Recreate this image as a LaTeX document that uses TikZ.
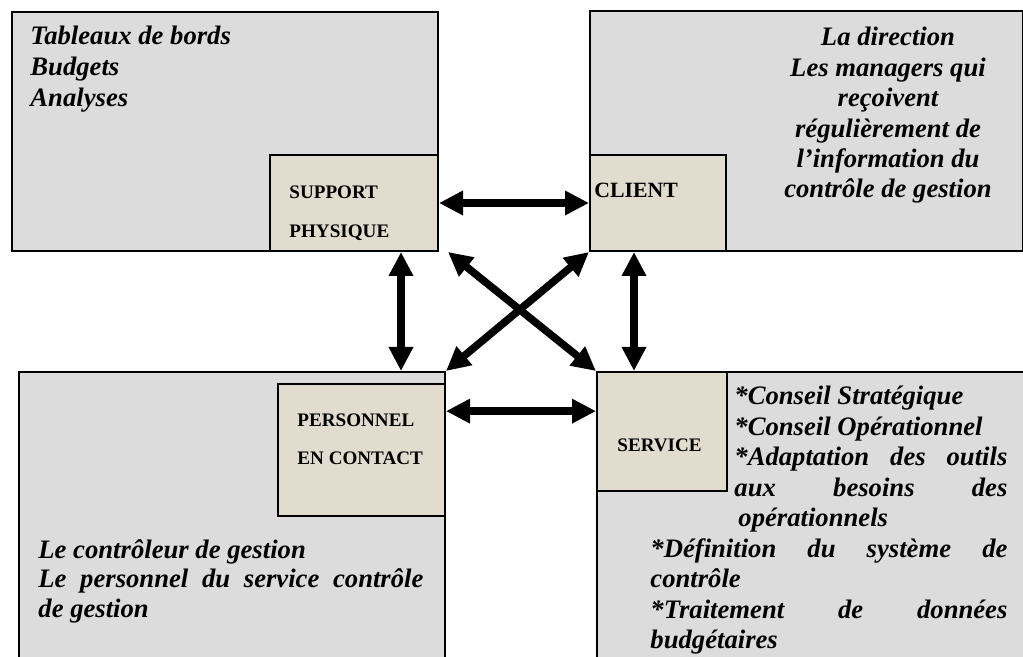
\documentclass[tikz,border=0pt]{standalone}
\usepackage{fontspec}
\setmainfont{Liberation Serif}
\usetikzlibrary{arrows.meta,calc,positioning}

\newlength\px
\setlength\px{0.45pt}
\definecolor{boxgray}{RGB}{220,220,220}
\definecolor{paper}{RGB}{226,220,207}

\tikzset{
	zone/.style={draw, line width=0.9pt, fill=boxgray, inner sep=0pt, anchor=north west},
	core/.style={draw, line width=0.9pt, fill=paper, inner sep=0pt},
	tag/.style={font=\fontsize{8.6}{10}\selectfont\bfseries, inner sep=0pt, anchor=base west},
	txt/.style={font=\fontsize{12}{14}\selectfont\bfseries\itshape, inner sep=0pt, anchor=base west},
	arr/.style={line width=3.4pt, >={Triangle[length=10.8pt,width=10.4pt]}, <->},
}

\begin{document}
\begin{tikzpicture}[x=0.45pt, y=-0.45pt]
	\clip (0,0) rectangle (1023,657);
	% les quatre zones
	\node[zone, minimum width=426\px, minimum height=239\px] (tl) at (11,11) {};
	\node[zone, minimum width=433\px, minimum height=240\px] (tr) at (589,10) {};
	\node[zone, minimum width=426\px, minimum height=300\px] (bl) at (18,371) {};
	\node[zone, minimum width=440\px, minimum height=300\px] (br) at (596,371) {};

	% les elements de la servuction
	\node[core, minimum width=168\px, minimum height=96\px, anchor=south east] (support) at (tl.south east) {};
	\node[core, minimum width=136\px, minimum height=96\px, anchor=south west] (client) at (tr.south west) {};
	\node[core, minimum width=167\px, minimum height=132\px, anchor=north east] (personnel) at ([yshift=-12\px]bl.north east) {};
	\node[core, minimum width=130\px, minimum height=119\px, anchor=north west] (service) at (br.north west) {};

	\node[tag] (sup1) at (289,199) {SUPPORT};
	\node[tag] (sup2) at (289,238) {PHYSIQUE};
	\node[tag, font=\fontsize{9.8}{11}\selectfont\bfseries] (cli) at (594,198) {CLIENT};
	\node[tag] (per1) at (297,427) {PERSONNEL};
	\node[tag] (per2) at (297,465) {EN CONTACT};
	\node[tag] (ser) at (617,452) {SERVICE};

	% fleches
	\draw[arr] (support) -- (client);
	\coordinate (pc) at ($(personnel.north east)!.21!(personnel.south east)$);
	\draw[arr] (pc) -- (pc -| service.west);
	\coordinate (sv) at ([xshift=-38\px]support.south east);
	\draw[arr] (sv) -- (sv |- bl.north);
	\coordinate (cv) at ([xshift=45\px]client.south west);
	\draw[arr] (cv) -- (cv |- service.north);
	\draw[arr] ([xshift=9\px]support.south east) -- (service.north west);
	\draw[arr] (client.south west) -- (bl.north east);

	% textes
	\node[txt] (tl1) at (30,45) {Tableaux de bords};
	\node[txt] (tl2) at (30,76) {Budgets};
	\node[txt] (tl3) at (30,107) {Analyses};

	\node[txt, anchor=base] (tr1) at (888,46) {La direction};
	\node[txt, anchor=base] (tr2) at (888,77) {Les managers qui};
	\node[txt, anchor=base] (tr3) at (888,107) {reçoivent};
	\node[txt, anchor=base] (tr4) at (888,138) {régulièrement de};
	\node[txt, anchor=base] (tr5) at (888,168) {l’information du};
	\node[txt, anchor=base] (tr6) at (888,198) {contrôle de gestion};

	\node[txt] (bl1) at (38,559) {Le contrôleur de gestion};
	\node[txt] (bl2) at (38,588) {\makebox[385\px]{Le\hfill personnel\hfill du\hfill service\hfill contrôle}};
	\node[txt] (bl3) at (38,618) {de gestion};

	\node[txt] (br1) at (734,405) {*Conseil Stratégique};
	\node[txt] (br2) at (734,436) {*Conseil Opérationnel};
	\node[txt] (br3) at (734,466) {\makebox[273\px]{*Adaptation\hfill des\hfill outils}};
	\node[txt] (br4) at (734,497) {\makebox[273\px]{aux\hfill besoins\hfill des}};
	\node[txt] (br5) at (738,527) {opérationnels};
	\node[txt] (br6) at (650,558) {\makebox[357\px]{*Définition\hfill du\hfill système\hfill de}};
	\node[txt] (br7) at (650,588) {contrôle};
	\node[txt] (br8) at (650,619) {\makebox[357\px]{*Traitement\hfill de\hfill données}};
	\node[txt] (br9) at (650,649) {budgétaires};
\end{tikzpicture}
\end{document}
